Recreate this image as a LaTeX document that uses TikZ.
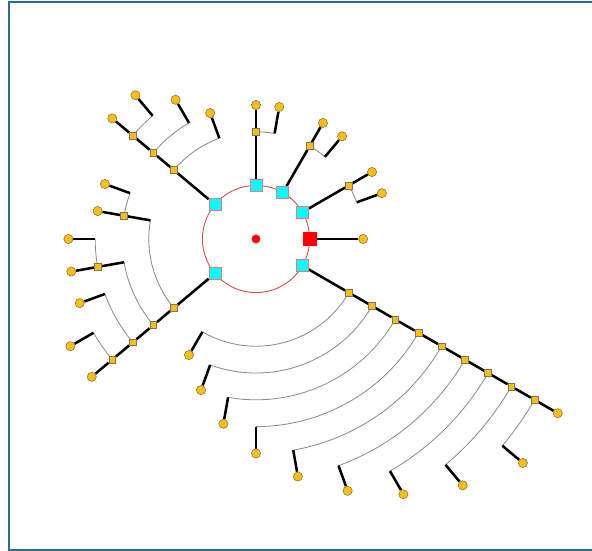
\documentclass[tikz,border=0pt]{standalone}
\usepackage{tikz}
\usetikzlibrary{backgrounds}
\definecolor{amber}{HTML}{FFC000}
\definecolor{aqua}{HTML}{00FFFF}
\definecolor{hubline}{HTML}{E87A7A}
\definecolor{ringred}{HTML}{C84848}
\definecolor{frameblue}{HTML}{2E6A96}

\begin{document}
\begin{tikzpicture}[
    hub/.style={draw=hubline, fill=aqua, minimum size=0.3cm, inner sep=0pt, line width=0.5pt},
    redhub/.style={hub, draw=red, fill=red, minimum size=0.32cm},
    inner/.style={draw=black!55, fill=amber, minimum size=0.17cm, inner sep=0pt, line width=0.4pt},
    leaf/.style={inner, circle, minimum size=0.23cm},
    stem/.style={line width=1.8pt},
    twig/.style={line width=0.6pt, black!45},
    ring/.style={draw=ringred, line width=0.6pt},
    framebox/.style={draw=frameblue, line width=1.4pt}
  ]
    \def\u{0.67}
    \useasboundingbox (-6.4,-7.8) rectangle (8.4,5.975);
    \draw[framebox] (8.6,5.925) -- (-6.175,5.925) -- (-6.175,-7.775) -- (8.6,-7.775);

    % root and its ring of hubs
    \node[circle, fill=red, minimum size=0.22cm, inner sep=0pt] (root) at (0,0) {};
    \node[redhub] (h0) at (0:2*\u) {};
    \node[leaf] (l0) at (0:4*\u) {};
    \node[hub] (h140) at (140:2*\u) {};
    \node[hub] (h220) at (220:2*\u) {};
    \node[hub] (hm30) at (-30:2*\u) {};

    % three small forks on the right
    \foreach \a in {30,60,90} {
      \pgfmathtruncatemacro\b{\a-10}
      \node[hub] (h\a) at (\a:2*\u) {};
      \node[inner] (n\a) at (\a:4*\u) {};
      \node[leaf] (t\a) at (\a:5*\u) {};
      \node[leaf] (s\a) at (\b:5*\u) {};
    }

    % upper left
    \node[inner] (p4) at (140:4*\u) {};
    \node[inner] (p5) at (140:5*\u) {};
    \node[inner] (p6) at (140:6*\u) {};
    \node[leaf] (p7) at (140:7*\u) {};
    \node[leaf] (q5) at (110:5*\u) {};
    \node[leaf] (q6) at (120:6*\u) {};
    \node[leaf] (q7) at (130:7*\u) {};

    % lower left
    \node[inner] (a4) at (220:4*\u) {};
    \node[inner] (a5) at (220:5*\u) {};
    \node[inner] (a6) at (220:6*\u) {};
    \node[inner] (a7) at (220:7*\u) {};
    \node[leaf] (a8) at (220:8*\u) {};
    \node[inner] (b5) at (170:5*\u) {};
    \node[leaf] (b6) at (170:6*\u) {};
    \node[leaf] (c6) at (160:6*\u) {};
    \node[inner] (d6) at (190:6*\u) {};
    \node[leaf] (d7) at (190:7*\u) {};
    \node[leaf] (e7) at (180:7*\u) {};
    \node[leaf] (f7) at (200:7*\u) {};
    \node[leaf] (g8) at (210:8*\u) {};

    % long chain
    \foreach \k in {4,...,12} {
      \pgfmathtruncatemacro\a{10*\k-160}
      \node[inner] (m\k) at (-30:\k*\u) {};
      \node[leaf] (w\k) at (\a:\k*\u+\u) {};
    }
    \node[leaf] (wend) at (-30:13*\u) {};

    \begin{scope}[on background layer]
      \draw[ring] (root) circle[radius=2*\u];
      \draw[stem] (h0) -- (l0);

      \foreach \a in {30,60,90} {
        \pgfmathtruncatemacro\b{\a-10}
        \draw[stem] (h\a) -- (n\a) -- (t\a);
        \draw[twig] (n\a) arc[start angle=\a, end angle=\b, radius=4*\u] coordinate (k\a);
        \draw[stem] (k\a) -- (s\a);
      }

      \draw[stem] (h140) -- (p4) -- (p5) -- (p6) -- (p7);
      \draw[twig] (p4) arc[start angle=140, end angle=110, radius=4*\u] coordinate (kq5);
      \draw[stem] (kq5) -- (q5);
      \draw[twig] (p5) arc[start angle=140, end angle=120, radius=5*\u] coordinate (kq6);
      \draw[stem] (kq6) -- (q6);
      \draw[twig] (p6) arc[start angle=140, end angle=130, radius=6*\u] coordinate (kq7);
      \draw[stem] (kq7) -- (q7);

      \draw[stem] (h220) -- (a4) -- (a5) -- (a6) -- (a7) -- (a8);
      \draw[twig] (a4) arc[start angle=220, end angle=170, radius=4*\u] coordinate (kb5);
      \draw[stem] (kb5) -- (b5) -- (b6);
      \draw[twig] (b5) arc[start angle=170, end angle=160, radius=5*\u] coordinate (kc6);
      \draw[stem] (kc6) -- (c6);
      \draw[twig] (a5) arc[start angle=220, end angle=190, radius=5*\u] coordinate (kd6);
      \draw[stem] (kd6) -- (d6) -- (d7);
      \draw[twig] (d6) arc[start angle=190, end angle=180, radius=6*\u] coordinate (ke7);
      \draw[stem] (ke7) -- (e7);
      \draw[twig] (a6) arc[start angle=220, end angle=200, radius=6*\u] coordinate (kf7);
      \draw[stem] (kf7) -- (f7);
      \draw[twig] (a7) arc[start angle=220, end angle=210, radius=7*\u] coordinate (kg8);
      \draw[stem] (kg8) -- (g8);

      \draw[stem] (hm30) -- (m4);
      \foreach \k [remember=\k as \j (initially 4)] in {5,...,12}
        \draw[stem] (m\j) -- (m\k);
      \draw[stem] (m12) -- (wend);
      \foreach \k in {4,...,12} {
        \pgfmathtruncatemacro\a{10*\k-160}
        \draw[twig] (m\k) arc[start angle=-30, end angle=\a, radius=\k*\u] coordinate (kw\k);
        \draw[stem] (kw\k) -- (w\k);
      }
    \end{scope}
  \end{tikzpicture}
\end{document}
